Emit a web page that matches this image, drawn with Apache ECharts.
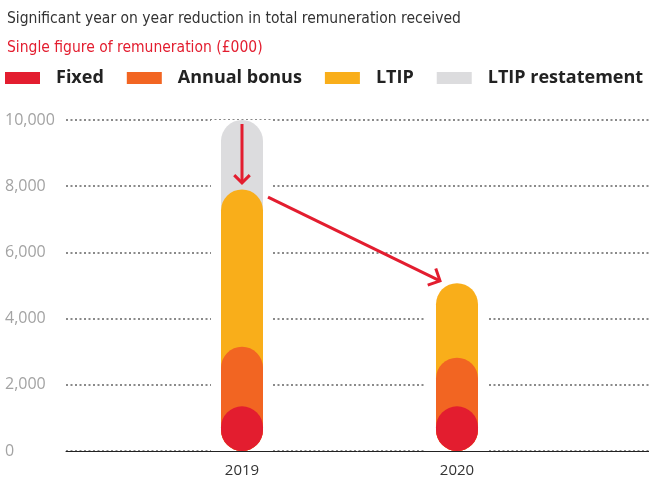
<!DOCTYPE html>
<html>
<head>
<meta charset="utf-8">
<script src="https://cdn.jsdelivr.net/npm/echarts@6/dist/echarts.min.js"></script>
<style>
  html, body { margin: 0; padding: 0; background: #fff; }
  #chart { width: 649px; height: 480px; }
</style>
</head>
<body>
<div id="chart"></div>
<script>
// data (£000)
const years = ['2019', '2020']
const fixed = [1350, 1350]
const annualBonus = [1800, 1470]
const ltip = [4750, 2250]
const ltipRestatement = [2100, 0]
const yTicks = [0, 2000, 4000, 6000, 8000, 10000]

// arrow annotations: [category, value, pixel shift along x]
const downArrow = [['2019', 9880, 0], ['2019', 8100, 0]]
const slopeArrow = [['2019', 7670, 26], ['2020', 5140, -17]]

const RED = '#e31d2f'
const ORANGE = '#f26522'
const YELLOW = '#f9ae1a'
const GREY = '#dcdcde'

// each pill runs from zero up to its running total
const topFixed = fixed.map((v) => v)
const topBonus = fixed.map((v, i) => v + annualBonus[i])
const topLtip = topBonus.map((v, i) => v + ltip[i])
const topRestated = topLtip.map((v, i) => (ltipRestatement[i] ? v + ltipRestatement[i] : null))
const gapTop = topLtip.map((v, i) => (topRestated[i] || v) + 300)

const chart = echarts.init(document.getElementById('chart'))

const pill = (name, color, data) => {
  return {
    name: name,
    type: 'bar',
    xAxisIndex: 1,
    yAxisIndex: 1,
    barWidth: 42,
    barGap: '-100%',
    z: 3,
    itemStyle: { color: color, borderRadius: 21 },
    data: data
  }
}

const option = {
  animation: false,
  title: [
    {
      text: 'Significant year on year reduction in total remuneration received',
      left: 2,
      top: 6,
      textStyle: {
        fontFamily: "'Liberation Sans Narrow', 'DejaVu Sans Condensed', sans-serif",
        fontWeight: 'normal',
        fontSize: 15.5,
        color: '#333'
      }
    },
    {
      text: 'Single figure of remuneration (£000)',
      left: 2,
      top: 35,
      textStyle: {
        fontFamily: "'Liberation Sans Narrow', 'DejaVu Sans Condensed', sans-serif",
        fontWeight: 'normal',
        fontSize: 15.5,
        color: RED
      }
    }
  ],
  legend: {
    data: ['Fixed', 'Annual bonus', 'LTIP', 'LTIP restatement'],
    left: 0,
    top: 64,
    icon: 'rect',
    itemWidth: 35,
    itemHeight: 12,
    itemGap: 23,
    selectedMode: false,
    textStyle: {
      fontFamily: "'Open Sans', sans-serif",
      fontWeight: 'bold',
      fontSize: 18,
      color: '#222',
      padding: [0, 0, 0, 11]
    }
  },
  grid: [
    { left: 66, right: 0, top: 120, bottom: 29 },
    { left: 134.5, right: 84.5, top: 120, bottom: 29 }
  ],
  xAxis: [
    {
      gridIndex: 0,
      type: 'value',
      min: 0,
      max: 1,
      axisLine: { show: true, lineStyle: { color: '#222', width: 1 } },
      axisTick: { show: false },
      axisLabel: { show: false },
      splitLine: { show: false }
    },
    {
      gridIndex: 1,
      type: 'category',
      data: years,
      axisLine: { show: false },
      axisTick: { show: false },
      axisLabel: {
        margin: 12,
        fontFamily: "'Open Sans', sans-serif",
        fontSize: 15,
        color: '#333'
      }
    },
    {
      gridIndex: 1,
      type: 'category',
      data: years,
      show: false
    }
  ],
  yAxis: [
    {
      gridIndex: 0,
      type: 'value',
      min: yTicks[0],
      max: yTicks[yTicks.length - 1],
      interval: yTicks[1] - yTicks[0],
      axisLine: { show: false },
      axisTick: { show: false },
      axisLabel: {
        align: 'left',
        margin: 61,
        fontFamily: "'Open Sans', sans-serif",
        fontSize: 16,
        color: '#a3a3a3',
        formatter: (v) => v.toLocaleString('en-GB')
      },
      splitLine: {
        show: true,
        lineStyle: { color: '#8a8a8a', width: 2, type: [2, 2.5] }
      }
    },
    { gridIndex: 1, type: 'value', min: 0, max: 10000, show: false },
    { gridIndex: 1, type: 'value', min: 0, max: 10000, show: false }
  ],
  series: [
    {
      name: 'gap',
      type: 'bar',
      xAxisIndex: 2,
      yAxisIndex: 2,
      barWidth: 62,
      silent: true,
      z: 1,
      itemStyle: { color: '#fff' },
      data: gapTop
    },
    pill('LTIP restatement', GREY, topRestated),
    pill('LTIP', YELLOW, topLtip),
    pill('Annual bonus', ORANGE, topBonus),
    pill('Fixed', RED, topFixed)
  ]
}

chart.setOption(option)

// arrows with open chevron heads
const toPx = (p) => {
  const pt = chart.convertToPixel({ xAxisIndex: 1, yAxisIndex: 1 }, [p[0], p[1]])
  return [pt[0] + p[2], pt[1]]
}
const arrow = (pts, head) => {
  const a = toPx(pts[0])
  const b = toPx(pts[1])
  const ang = Math.atan2(b[1] - a[1], b[0] - a[0])
  const w1 = [b[0] - head * Math.cos(ang - Math.PI / 4), b[1] - head * Math.sin(ang - Math.PI / 4)]
  const w2 = [b[0] - head * Math.cos(ang + Math.PI / 4), b[1] - head * Math.sin(ang + Math.PI / 4)]
  const style = { stroke: RED, lineWidth: 3, fill: null, lineCap: 'butt', lineJoin: 'miter' }
  return [
    { type: 'polyline', z: 10, shape: { points: [a, b] }, style: style },
    { type: 'polyline', z: 10, shape: { points: [w1, b, w2] }, style: style }
  ]
}

chart.setOption({
  graphic: arrow(downArrow, 11).concat(arrow(slopeArrow, 13))
})

window.addEventListener('resize', () => {
  chart.resize()
})
</script>
</body>
</html>
